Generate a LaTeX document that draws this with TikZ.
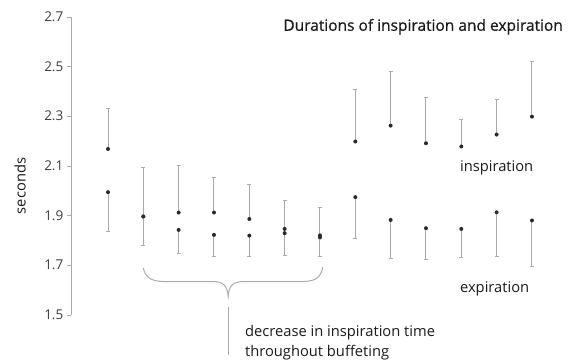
\documentclass[tikz,border=0pt]{standalone}
\usepackage{fontspec}
\setmainfont{Open Sans}
\newfontfamily\titlefont{Open Sans}[FakeBold=0.6, UprightFont=*, BoldFont=*]
\definecolor{bargray}{HTML}{AAAAAA}
\definecolor{dotgray}{HTML}{2A2A2A}
\definecolor{txtgray}{HTML}{1A1A1A}
\begin{document}
\begin{tikzpicture}[x=35.33pt, y=248.3pt, font=\fontsize{14.7}{17}\selectfont, text=txtgray]

    % Define the axis position and cap width
    \def\ax{-0.047}
    \def\cw{0.06}

    % Fix the margins
    \useasboundingbox (-2.057, 1.311) rectangle (14.077, 2.768);

    % Draw the axis with ticks and labels
    \draw[bargray, thin] (\ax, 1.5) -- (\ax, 2.7);
    \foreach \v in {1.5, 1.7, 1.9, 2.1, 2.3, 2.5, 2.7} {
        \draw[bargray, thin] (\ax-0.1, \v) -- (\ax, \v);
        \node[anchor=east, inner sep=0pt, text=txtgray!85, font=\fontsize{13.5}{16}\selectfont]
            (tick\v) at (-0.26, \v) {\v};
    }
    \node[rotate=90] (ylabel) at (-1.49, 2.019) {seconds};

    % Inspiration: mean and upper end
    \foreach \i/\p/\t in {1/2.168/2.331, 2/1.896/2.094, 3/1.912/2.101, 4/1.912/2.052,
        5/1.886/2.027, 6/1.846/1.962, 7/1.820/1.932, 8/2.198/2.409, 9/2.262/2.480,
        10/2.191/2.375, 11/2.178/2.289, 12/2.226/2.369, 13/2.298/2.520} {
        \draw[bargray, line width=1pt] (\i, \p) -- (\i, \t);
        \draw[bargray, line width=0.8pt] (\i-\cw, \t) -- (\i+\cw, \t);
        \fill[dotgray] (\i, \p) circle (2pt);
    }

    % Expiration: mean and lower end
    \foreach \i/\p/\b in {1/1.994/1.838, 2/1.896/1.778, 3/1.842/1.748, 4/1.822/1.737,
        5/1.819/1.735, 6/1.829/1.739, 7/1.812/1.737, 8/1.974/1.809, 9/1.882/1.728,
        10/1.849/1.724, 11/1.846/1.732, 12/1.913/1.737, 13/1.880/1.696} {
        \draw[bargray, line width=1pt] (\i, \p) -- (\i, \b);
        \draw[bargray, line width=0.8pt] (\i-\cw, \b) -- (\i+\cw, \b);
        \fill[dotgray] (\i, \p) circle (2pt);
    }

    % Brace under the buffeting bars
    \coordinate (tip) at (4.4, 1.574);
    \draw[bargray, line width=1pt]
        (2.0, 1.689) .. controls (2.05, 1.645) and (2.3, 1.634) .. (2.6, 1.634) --
        (3.95, 1.634) .. controls (4.25, 1.634) and (4.38, 1.62) .. (tip)
        .. controls (4.42, 1.62) and (4.55, 1.634) .. (4.85, 1.634) --
        (6.5, 1.634) .. controls (6.8, 1.634) and (7.03, 1.645) .. (7.08, 1.693);
    \coordinate (lineA) at (4.4, 1.533);
    \coordinate (lineB) at (4.4, 1.339);
    \draw[bargray, line width=1pt] (lineA) -- (lineB);

    % Labels
    \node[anchor=base east, inner sep=0pt, font=\titlefont\bfseries\fontsize{15.5}{17}\selectfont] (title)
        at (13.88, 2.644) {Durations of inspiration and expiration};
    \node[anchor=base west, inner sep=0pt] (insp) at (10.96, 2.076) {inspiration};
    \node[anchor=base west, inner sep=0pt] (expi) at (10.96, 1.588) {expiration};
    \node[anchor=base west, inner sep=0pt] (dec) at (4.877, 1.411) {decrease in inspiration time};
    \node[anchor=base west, inner sep=0pt] (buff) at (4.877, 1.331) {throughout buffeting};

\end{tikzpicture}
\end{document}
